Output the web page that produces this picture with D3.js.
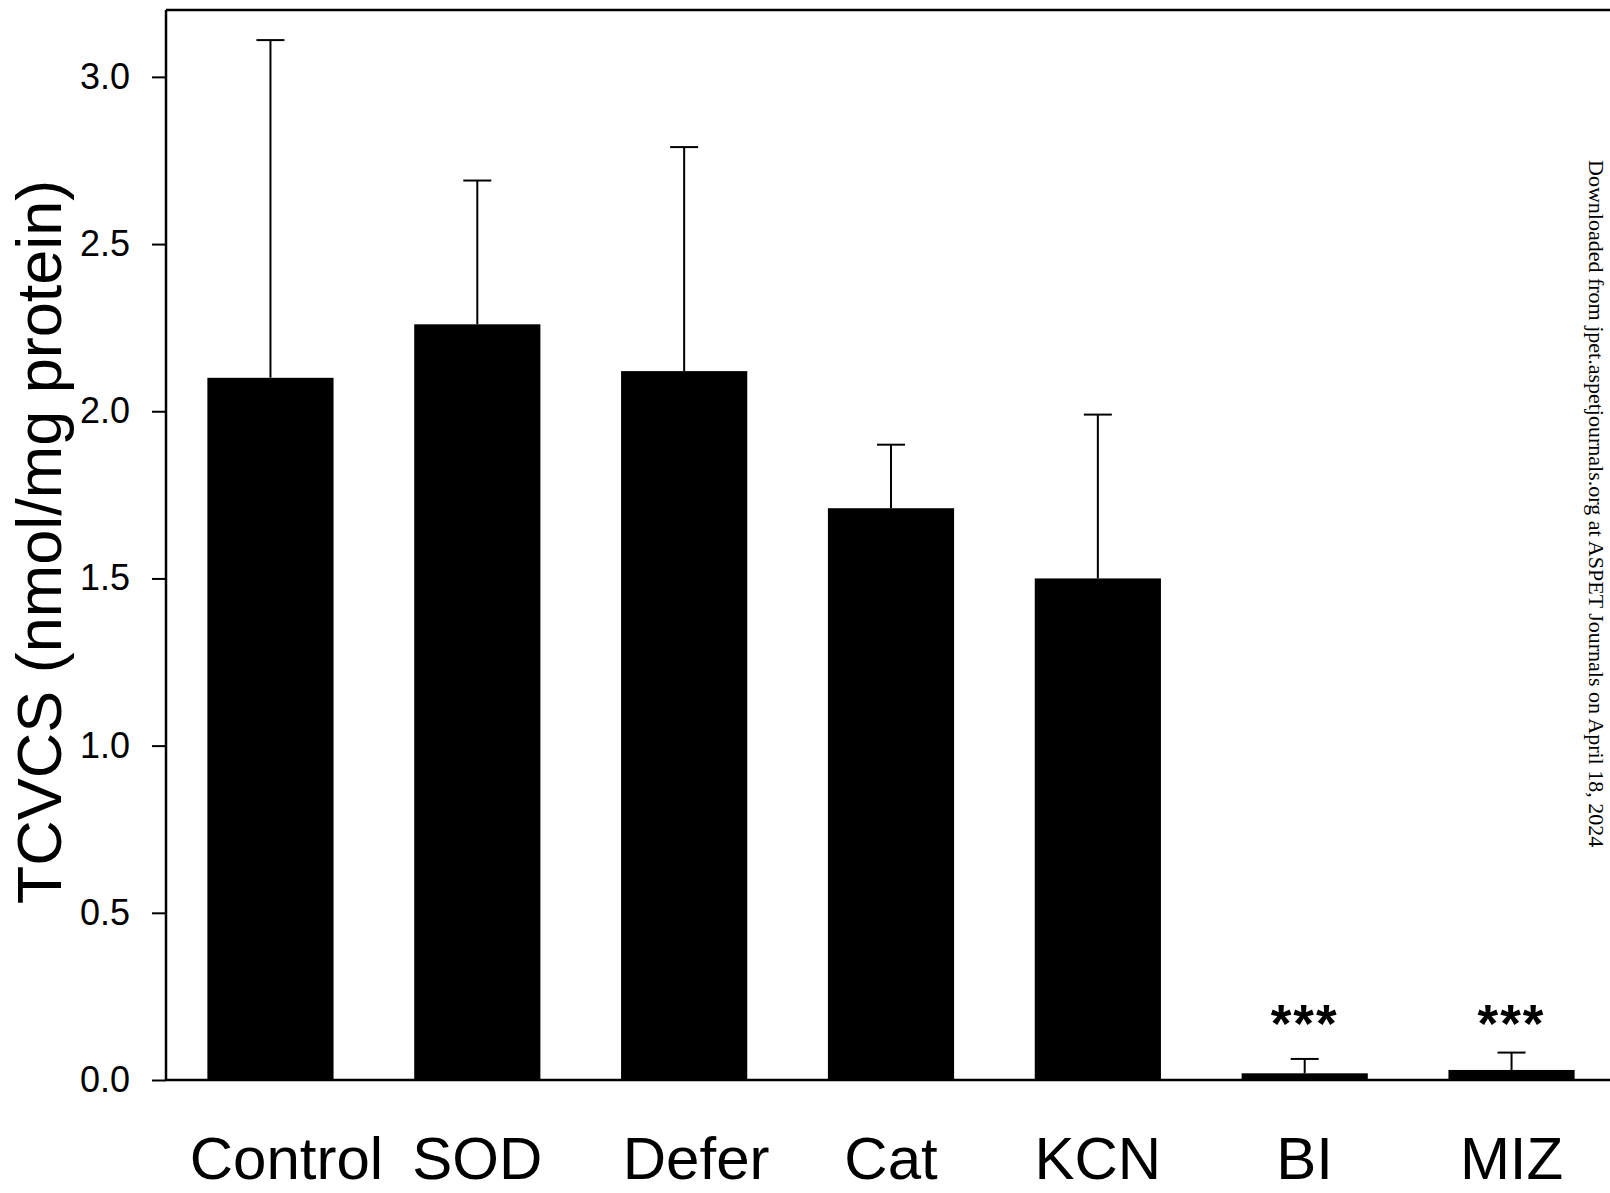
<!DOCTYPE html>
<html>
<head>
<meta charset="utf-8">
<script src="https://cdn.jsdelivr.net/npm/d3@7"></script>
<style>
  html, body { margin: 0; padding: 0; background: #fff; }
  svg { display: block; }
</style>
</head>
<body>
<div id="chart"></div>
<script>
// data
const groups = ["Control", "SOD", "Defer", "Cat", "KCN", "BI", "MIZ"];
const means = [2.10, 2.26, 2.12, 1.71, 1.50, 0.02, 0.03];
const errTops = [3.11, 2.69, 2.79, 1.90, 1.99, 0.063, 0.082];
const stars = ["", "", "", "", "", "***", "***"];
const yTicks = [0, 0.5, 1.0, 1.5, 2.0, 2.5, 3.0];

const width = 1610;
const height = 1193;
const margin = { left: 166, top: 10, bottom: 1080, right: 1616 };

const svg = d3.select("#chart")
  .append("svg")
  .attr("width", width)
  .attr("height", height)
  .style("font-family", "'Liberation Sans', Arial, sans-serif");

const x = d3.scaleBand()
  .domain(groups)
  .range([margin.left, margin.right])
  .paddingInner(0.39)
  .paddingOuter(0.2);

const y = d3.scaleLinear()
  .domain([0, 3.2])
  .range([margin.bottom, margin.top]);

// bars
svg.append("g")
  .selectAll("rect")
  .data(groups)
  .join("rect")
  .attr("x", d => x(d))
  .attr("width", x.bandwidth())
  .attr("y", (d, i) => y(means[i]))
  .attr("height", (d, i) => y(0) - y(means[i]))
  .attr("fill", "#000");

// error bars (upper only)
const err = svg.append("g")
  .attr("stroke", "#000")
  .attr("stroke-width", 2);

err.selectAll("line.stem")
  .data(groups)
  .join("line")
  .attr("class", "stem")
  .attr("x1", d => x(d) + x.bandwidth() / 2)
  .attr("x2", d => x(d) + x.bandwidth() / 2)
  .attr("y1", (d, i) => y(means[i]))
  .attr("y2", (d, i) => y(errTops[i]));

err.selectAll("line.cap")
  .data(groups)
  .join("line")
  .attr("class", "cap")
  .attr("x1", d => x(d) + x.bandwidth() / 2 - 14)
  .attr("x2", d => x(d) + x.bandwidth() / 2 + 14)
  .attr("y1", (d, i) => y(errTops[i]))
  .attr("y2", (d, i) => y(errTops[i]));

// significance stars, same height for both groups
svg.append("g")
  .selectAll("text")
  .data(groups)
  .join("text")
  .attr("x", d => x(d) + x.bandwidth() / 2)
  .attr("y", y(0) - 38)
  .attr("text-anchor", "middle")
  .attr("font-size", 53)
  .attr("font-weight", "bold")
  .attr("letter-spacing", 2)
  .text((d, i) => stars[i]);

// y axis
const yAxis = svg.append("g")
  .attr("transform", `translate(${margin.left},0)`)
  .call(d3.axisLeft(y).tickValues(yTicks).tickSize(14).tickPadding(22)
    .tickFormat(d3.format(".1f")));
yAxis.select(".domain").remove();
yAxis.selectAll(".tick line").attr("stroke", "#000").attr("stroke-width", 2);
yAxis.selectAll(".tick text")
  .attr("font-size", 36)
  .attr("fill", "#000")
  .attr("font-family", "'Liberation Sans', Arial, sans-serif");

// frame: left, top, bottom
const frame = svg.append("g").attr("stroke", "#000").attr("stroke-width", 2.5).attr("fill", "none");
frame.append("line").attr("x1", margin.left).attr("x2", margin.left).attr("y1", y(3.2)).attr("y2", y(0));
frame.append("line").attr("x1", margin.left).attr("x2", width).attr("y1", y(3.2)).attr("y2", y(3.2));
frame.append("line").attr("x1", margin.left).attr("x2", width).attr("y1", y(0)).attr("y2", y(0));

// x labels
svg.append("g")
  .selectAll("text")
  .data(groups)
  .join("text")
  .attr("x", d => x(d) + x.bandwidth() / 2 + (d === "Control" ? 16 : d === "Defer" ? 12 : 0))
  .attr("y", 1179)
  .attr("text-anchor", "middle")
  .attr("font-size", 60)
  .text(d => d);

// y title
svg.append("text")
  .attr("transform", "translate(61,542) rotate(-90)")
  .attr("text-anchor", "middle")
  .attr("font-size", 63)
  .text("TCVCS (nmol/mg protein)");

// side watermark
svg.append("text")
  .attr("transform", "translate(1589,160) rotate(90)")
  .attr("font-family", "'Liberation Serif', 'Times New Roman', serif")
  .attr("font-size", 22)
  .text("Downloaded from jpet.aspetjournals.org at ASPET Journals on April 18, 2024");
</script>
</body>
</html>
